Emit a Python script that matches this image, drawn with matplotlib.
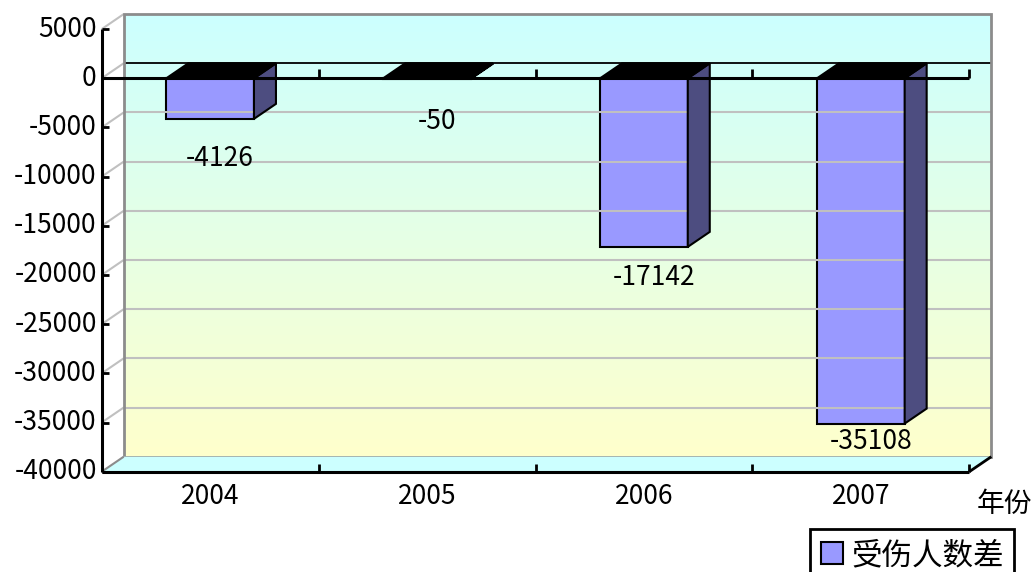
import matplotlib
matplotlib.use("Agg")
import matplotlib.pyplot as plt
import numpy as np
from matplotlib.patches import Polygon, Patch
from matplotlib.lines import Line2D
from matplotlib.transforms import IdentityTransform
from matplotlib.colors import to_rgb

# ---- data ----
years = ["2004", "2005", "2006", "2007"]
diff_values = [-4126, -50, -17142, -35108]
y_ticks = [5000, 0, -5000, -10000, -15000, -20000, -25000, -30000, -35000, -40000]
series_name = "受伤人数差"
x_title = "年份"

# ---- style ----
FONT = ["Noto Sans CJK SC", "DejaVu Sans"]
plt.rcParams["font.family"] = FONT
TEXT_WEIGHT = "light"
W, H, DPI = 1033, 572, 100
DX, DY = 22.0, 15.0          # depth offset of the 3D box, in pixels
BAR_W = 0.404
FRONT = "#9999FF"
SIDE = "#4D4D80"
WALL_TOP = "#CCFFFF"
WALL_BOT = "#FFFFCC"
FLOOR = "#CCFFFF"
GRID = "#C0C0C0"
WALL_EDGE = "#8C8C8C"

fig = plt.figure(figsize=(W / DPI, H / DPI), dpi=DPI)
ax = fig.add_axes([101.7 / W, (H - 471.7) / H, 867.6 / W, 442.6 / H])
ymin, ymax = min(y_ticks), max(y_ticks)
ncat = len(years)
ax.set_xlim(0, ncat)
ax.set_ylim(ymin, ymax)
ax.axis("off")

ident = IdentityTransform()


def disp(x, y, depth=0.0):
    px, py = ax.transData.transform((x, y))
    return (px + depth * DX, py + depth * DY)


def line(p, q, color="black", lw=2.0, z=3):
    fig.add_artist(Line2D([p[0], q[0]], [p[1], q[1]], color=color, lw=lw,
                          transform=ident, zorder=z, solid_capstyle="butt"))


def poly(pts, fc, ec="none", lw=0.0, z=3):
    fig.add_artist(Polygon(pts, closed=True, facecolor=fc, edgecolor=ec,
                           lw=lw, transform=ident, zorder=z, joinstyle="miter"))


# back wall with vertical gradient
x0b, y0b = disp(0, ymin, 1)
x1b, y1b = disp(ncat, ymax, 1)
top = np.array(to_rgb(WALL_TOP))
bot = np.array(to_rgb(WALL_BOT))
t = np.linspace(0, 1, 256)[:, None]
grad = (top * (1 - t) + bot * t)[:, None, :]
img_ax = fig.add_axes([x0b / W, y0b / H, (x1b - x0b) / W, (y1b - y0b) / H], zorder=-1)
img_ax.imshow(grad, aspect="auto", interpolation="bilinear", extent=(0, 1, 0, 1))
img_ax.axis("off")

# gridlines on back wall and side wall
for v in y_ticks:
    if v in (ymin, ymax):
        continue
    if v == 0:
        line(disp(0, v, 1), disp(ncat, v, 1), color="black", lw=1.3, z=2)
    else:
        line(disp(0, v, 1), disp(ncat, v, 1), color=GRID, lw=1.5, z=2)
    line(disp(0, v, 0), disp(0, v, 1), color=GRID, lw=1.5, z=2)
line(disp(0, ymax, 0), disp(0, ymax, 1), color=GRID, lw=1.5, z=2)

# back wall frame
poly([disp(0, ymin, 1), disp(ncat, ymin, 1), disp(ncat, ymax, 1), disp(0, ymax, 1)],
     fc="none", ec=WALL_EDGE, lw=2.0, z=2)

# floor
poly([disp(0, ymin, 0), disp(ncat, ymin, 0), disp(ncat, ymin, 1), disp(0, ymin, 1)],
     fc=FLOOR, z=2)
line(disp(0, ymin, 0), disp(0, ymin, 1), color=WALL_EDGE, lw=1.5, z=3)
line(disp(ncat, ymin, 0), disp(ncat, ymin, 1), color="black", lw=2.0, z=3)
line(disp(0, ymin, 0), disp(ncat, ymin, 0), color="black", lw=2.2, z=3)
for k in range(1, ncat + 1):
    p = disp(k, ymin)
    line(p, (p[0], p[1] + 8), color="black", lw=2.0, z=3)

# bars
for i, v in enumerate(diff_values):
    xc = i + 0.5
    xl, xr = xc - BAR_W / 2, xc + BAR_W / 2
    poly([disp(xr, 0, 0), disp(xr, 0, 1), disp(xr, v, 1), disp(xr, v, 0)],
         fc=SIDE, ec="black", lw=1.5, z=4)
    poly([disp(xl, 0, 0), disp(xr, 0, 0), disp(xr, 0, 1), disp(xl, 0, 1)],
         fc="black", ec="black", lw=1.5, z=4)
    ax.bar(xc, v, width=BAR_W, color=FRONT, edgecolor="black", lw=1.5, zorder=5,
           clip_on=False)

# zero line with ticks
line(disp(0, 0), disp(ncat, 0), color="black", lw=2.2, z=6)
for k in range(1, ncat + 1):
    p = disp(k, 0)
    line(p, (p[0], p[1] + 9), color="black", lw=2.0, z=6)

# value axis
line(disp(0, ymin), disp(0, ymax), color="black", lw=2.2, z=6)
for v in y_ticks:
    p = disp(0, v)
    line(p, (p[0] + 7, p[1]), color="black", lw=2.0, z=6)
    fig.text((p[0] - 5) / W, p[1] / H, f"{v}", ha="right", va="center",
             fontsize=19, family=FONT, fontweight=TEXT_WEIGHT)

# value labels
y_zero = disp(0, 0)[1]
for i, v in enumerate(diff_values):
    xb, yb = disp(i + 0.5, v)
    ylab = y_zero - 42.5 - 0.93 * (y_zero - yb)
    fig.text((xb + 10) / W, ylab / H, f"{v}", ha="center", va="center",
             fontsize=19, family=FONT, fontweight=TEXT_WEIGHT, zorder=7)

# category labels
for i, name in enumerate(years):
    p = disp(i + 0.5, ymin)
    fig.text(p[0] / W, (p[1] - 25) / H, name, ha="center", va="center",
             fontsize=19, family=FONT, fontweight=TEXT_WEIGHT)

pe = disp(ncat, ymin)
fig.text((pe[0] + 35) / W, (pe[1] - 32) / H, x_title, ha="center", va="center",
         fontsize=20, family=FONT, fontweight=TEXT_WEIGHT)

# legend
leg = fig.legend(handles=[Patch(facecolor=FRONT, edgecolor="black", lw=1.5, label=series_name)],
                 loc="upper left", bbox_to_anchor=(810 / W, 1 - 529.3 / H),
                 bbox_transform=fig.transFigure, frameon=True, fancybox=False,
                 edgecolor="black", framealpha=1, borderpad=0.35,
                 handlelength=0.72, handleheight=0.72, handletextpad=0.27,
                 borderaxespad=0,
                 prop={"family": FONT, "size": 22, "weight": TEXT_WEIGHT})
leg.get_frame().set_linewidth(2.0)

fig.savefig("out.png", dpi=DPI)
